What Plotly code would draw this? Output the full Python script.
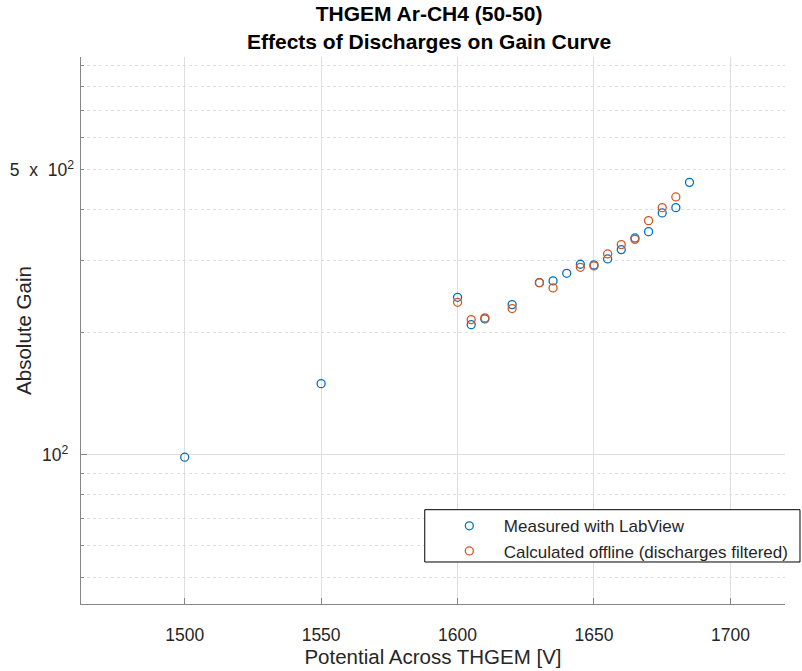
import plotly.graph_objects as go
import math

# Measured with LabView
x_lab = [1500, 1550, 1600, 1605, 1610, 1620, 1630, 1635, 1640, 1645, 1650,
         1655, 1660, 1665, 1670, 1675, 1680, 1685]
y_lab = [98.7, 149.5, 243.4, 208.6, 215.4, 233.6, 264.4, 267.0, 278.7, 293.3,
         292.3, 302.3, 318.6, 340.3, 352.6, 391.9, 403.8, 465.7]

# Calculated offline (discharges filtered)
x_off = [1600, 1605, 1610, 1620, 1630, 1635, 1645, 1650, 1655, 1660, 1665,
         1670, 1675, 1680]
y_off = [236.6, 214.6, 216.7, 228.4, 264.4, 256.7, 288.3, 290.6, 310.9, 327.7,
         337.6, 375.2, 403.8, 428.9]

x_ticks = [1500, 1550, 1600, 1650, 1700]
y_major = [100]
y_major_text = ["10<sup>2</sup>"]
y_label2 = [500]
y_label2_text = ["5&nbsp; x&nbsp; 10<sup>2</sup>"]
y_minor = [50, 60, 70, 80, 90, 200, 300, 400, 500, 600, 700, 800, 900]

x_range = [1462, 1720]
y_range = [43.1, 945]

BLUE = "#0072BD"
ORANGE = "#D95319"
TXT = "#262626"
AX = "#868686"

fig = go.Figure()
fig.add_trace(go.Scatter(
    x=x_lab, y=y_lab, mode="markers", name="Measured with LabView",
    marker=dict(symbol="circle-open", size=8, color=BLUE, line=dict(width=1.3, color=BLUE)),
))
fig.add_trace(go.Scatter(
    x=x_off, y=y_off, mode="markers", name="Calculated offline (discharges filtered)",
    yaxis="y2",
    marker=dict(symbol="circle-open", size=8, color=ORANGE, line=dict(width=1.3, color=ORANGE)),
))

yr = [math.log10(y_range[0]), math.log10(y_range[1])]

fig.update_layout(
    width=802, height=671,
    margin=dict(l=81, r=17, t=57, b=67, autoexpand=False),
    paper_bgcolor="white", plot_bgcolor="white",
    font=dict(family="Liberation Sans, Arial, sans-serif", color=TXT, size=17),
    title=dict(
        text="<b>THGEM Ar-CH4 (50-50)<br>Effects of Discharges on Gain Curve</b>",
        x=0.535, xanchor="center", y=0.968, yanchor="middle", yref="container",
        font=dict(size=21, color="black"), automargin=False,
    ),
    xaxis=dict(
        range=x_range, tickvals=x_ticks, ticks="inside", ticklen=6, tickcolor=AX,
        showline=True, linecolor=AX, linewidth=1.3, mirror=False, automargin=False,
        showgrid=True, gridcolor="#dedede", gridwidth=1, zeroline=False,
        tickfont=dict(size=17.5, color=TXT), ticklabelstandoff=15,
        title=dict(text="Potential Across THGEM [V]", font=dict(size=20.5, color=TXT), standoff=4),
    ),
    yaxis=dict(
        type="log", range=yr, tickmode="array", tickvals=y_major, ticktext=y_major_text,
        ticks="inside", ticklen=6, tickcolor=AX, automargin=False,
        showline=True, linecolor=AX, linewidth=1.3,
        showgrid=True, gridcolor="#dedede", gridwidth=1, zeroline=False,
        tickfont=dict(size=17.5, color=TXT), ticklabelstandoff=8,
        minor=dict(tickmode="array", tickvals=y_minor, ticks="inside", ticklen=3,
                   tickcolor=AX, showgrid=True, gridcolor="#e0e0e0", griddash="dot", gridwidth=1),
        title=dict(text="Absolute Gain", font=dict(size=20.5, color=TXT), standoff=4),
    ),
    yaxis2=dict(
        type="log", range=yr, overlaying="y", side="left", anchor="x",
        tickmode="array", tickvals=y_label2, ticktext=y_label2_text, automargin=False,
        ticks="", showline=False, showgrid=False, zeroline=False,
        tickfont=dict(size=17.5, color=TXT), ticklabelstandoff=6,
    ),
    showlegend=True,
    legend=dict(
        x=0.5026, xanchor="left", y=0.175, yanchor="top",
        bgcolor="rgba(0,0,0,0)", borderwidth=0, itemwidth=59,
        font=dict(size=17, color=TXT), tracegroupgap=0,
    ),
    shapes=[dict(
        type="rect", xref="paper", yref="paper",
        x0=0.4883, x1=1.0213, y0=0.0768, y1=0.1724,
        fillcolor="white", line=dict(color="black", width=1), layer="above",
    )],
)

fig.write_html("out.html", config={"displayModeBar": False},
               post_script="document.body.style.margin='0';")
